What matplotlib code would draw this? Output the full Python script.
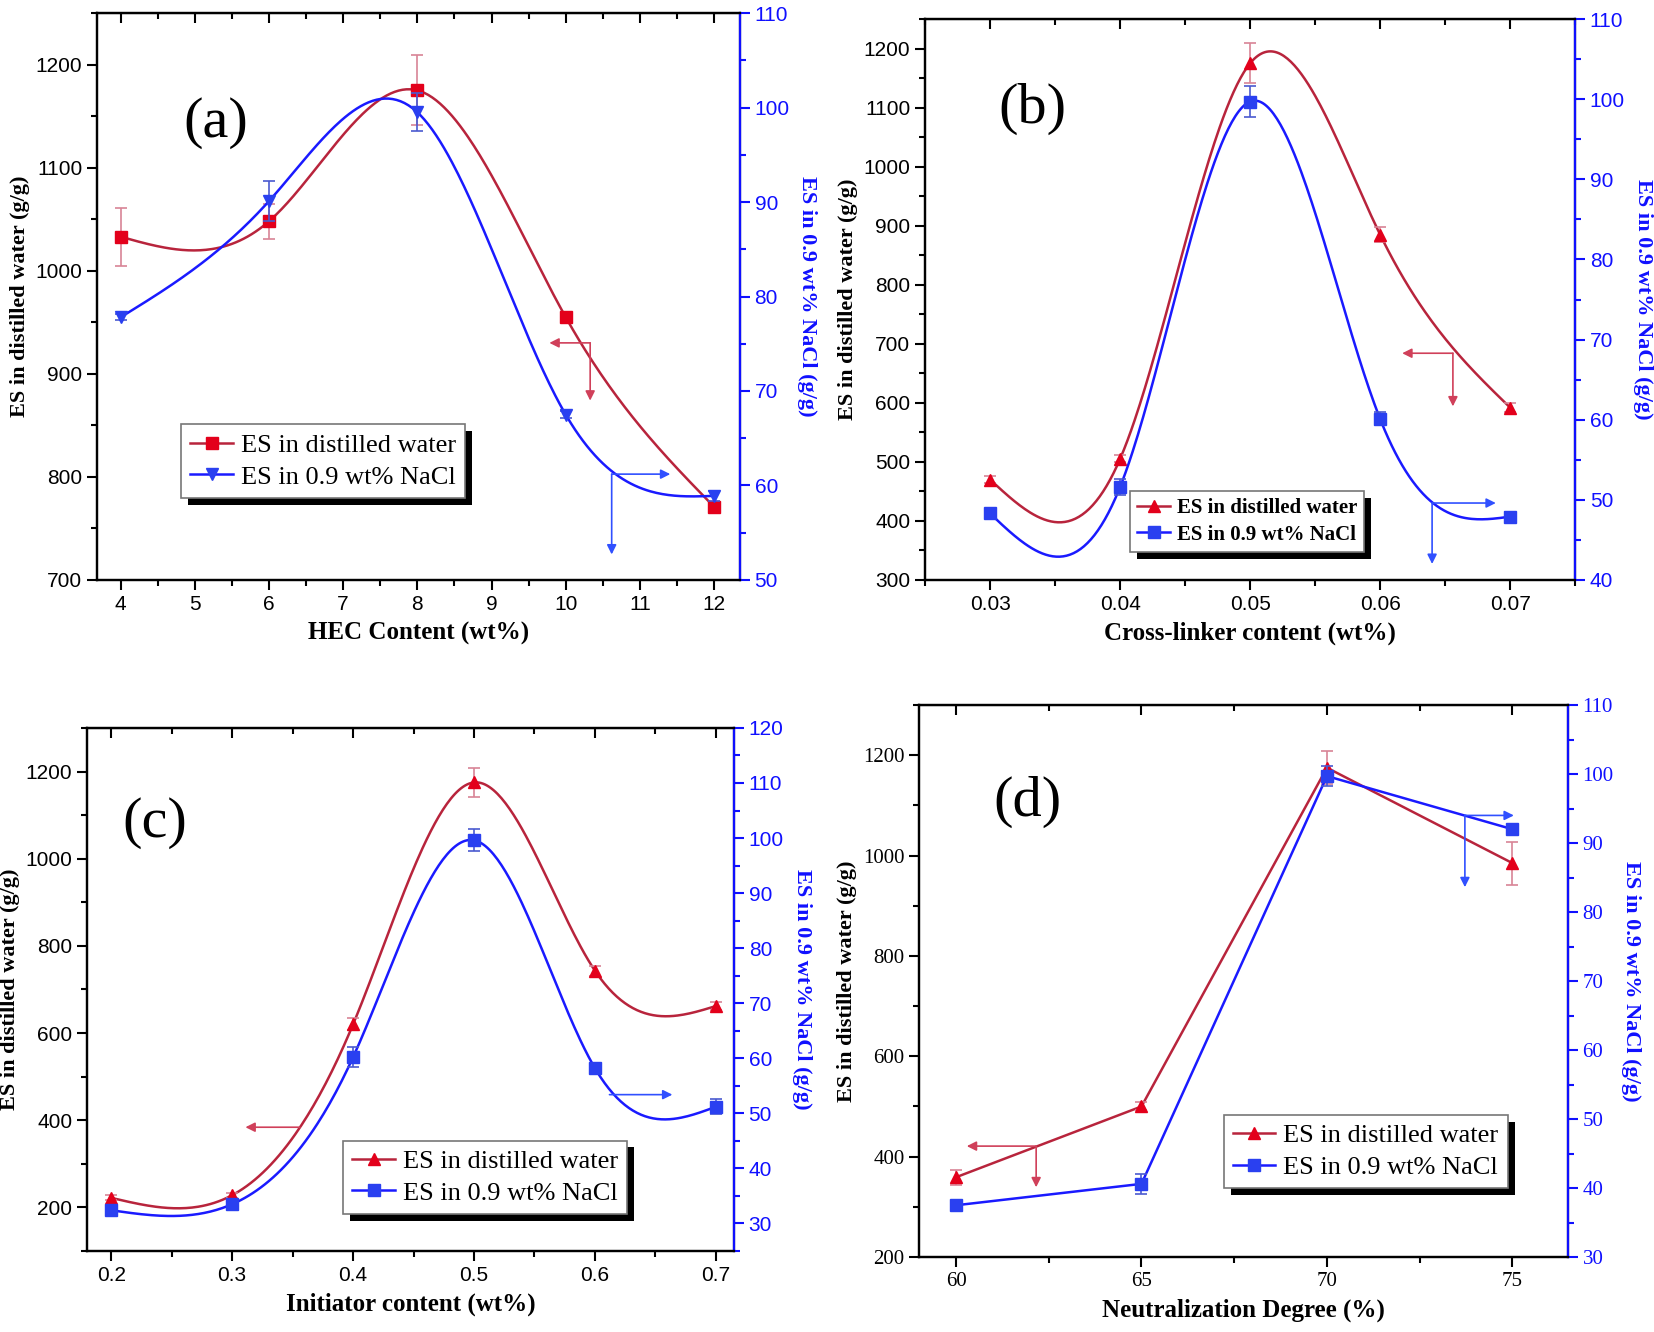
import numpy as np
import matplotlib
matplotlib.use('Agg')
import matplotlib.pyplot as plt
from matplotlib.ticker import MultipleLocator
import matplotlib.patheffects as pe

# (a) HEC content
hec = [4, 6, 8, 10, 12]
hec_water = [1033, 1048, 1175, 955, 771]
hec_water_err = [28, 17, 34, 5, 3]
hec_nacl = [77.8, 90.1, 99.5, 67.5, 58.9]
hec_nacl_err = [0.3, 2.1, 2.0, 0.4, 0.5]

# (b) cross-linker content
xlk = [0.03, 0.04, 0.05, 0.06, 0.07]
xlk_water = [470, 505, 1175, 885, 592]
xlk_water_err = [6, 6, 34, 12, 8]
xlk_nacl = [48.3, 51.6, 99.7, 60.1, 47.9]
xlk_nacl_err = [0.4, 1.0, 1.9, 0.8, 0.6]

# (c) initiator content
ini = [0.2, 0.3, 0.4, 0.5, 0.6, 0.7]
ini_water = [222, 228, 620, 1175, 743, 662]
ini_water_err = [6, 6, 14, 33, 12, 10]
ini_nacl = [32.4, 33.5, 60.2, 99.6, 58.2, 51.2]
ini_nacl_err = [0.5, 0.5, 1.8, 2.0, 0.4, 1.4]

# (d) neutralization degree
nd = [60, 65, 70, 75]
nd_water = [359, 500, 1175, 985]
nd_water_err = [15, 8, 33, 43]
nd_nacl = [37.5, 40.6, 99.7, 92.0]
nd_nacl_err = [0.4, 1.5, 1.5, 0.5]

RED_LINE = '#b8243c'
RED_MK = '#e3001b'
RED_ERR = '#d88496'
BLUE_LINE = '#1a1aff'
BLUE_MK = '#2a40f0'
BLUE_ERR = '#4a5ad0'
SERIF = 'Liberation Serif'


def natural_spline(x, y, n=300):
    # cubic spline through the measured points (how Origin draws the line)
    x = np.asarray(x, float)
    y = np.asarray(y, float)
    h = np.diff(x)
    m = len(x)
    A = np.zeros((m, m))
    r = np.zeros(m)
    A[0, 0] = A[-1, -1] = 1
    for i in range(1, m - 1):
        A[i, i - 1] = h[i - 1]
        A[i, i] = 2 * (h[i - 1] + h[i])
        A[i, i + 1] = h[i]
        r[i] = 6 * ((y[i + 1] - y[i]) / h[i] - (y[i] - y[i - 1]) / h[i - 1])
    M = np.linalg.solve(A, r)
    xs = np.linspace(x[0], x[-1], n)
    k = np.clip(np.searchsorted(x, xs) - 1, 0, m - 2)
    t0 = x[k + 1] - xs
    t1 = xs - x[k]
    hk = h[k]
    ys = (M[k] * t0**3 + M[k + 1] * t1**3) / (6 * hk) \
        + (y[k] / hk - M[k] * hk / 6) * t0 + (y[k + 1] / hk - M[k + 1] * hk / 6) * t1
    return xs, ys


def arrow(ax, start, end, color):
    ax.annotate('', xy=end, xytext=start,
                arrowprops=dict(arrowstyle='-|>', color=color, lw=1.2,
                                mutation_scale=14, shrinkA=0, shrinkB=0))


def panel(rect, x, w, we, s, se, mk_w, mk_s, smooth, xlim, ylim, ylim2,
          xstep, ystep, xlabel, letter, letter_pos, leg_pos, leg_bold,
          tick_family, red_arrow, blue_arrow):
    ax = fig.add_axes(rect)
    ax2 = ax.twinx()

    if smooth:
        xs, ys = natural_spline(x, w)
        xs2, ys2 = natural_spline(x, s)
    else:
        xs, ys = x, w
        xs2, ys2 = x, s
    ax.plot(xs, ys, color=RED_LINE, lw=1.8, zorder=2)
    ax.errorbar(x, w, yerr=we, fmt='none', ecolor=RED_ERR, elinewidth=1.2,
                capsize=4, capthick=1.2, zorder=3)
    ax.plot(x, w, ls='none', marker=mk_w, ms=8, color=RED_MK, zorder=4)
    ax2.plot(xs2, ys2, color=BLUE_LINE, lw=1.8, zorder=2)
    ax2.errorbar(x, s, yerr=se, fmt='none', ecolor=BLUE_ERR, elinewidth=1.2,
                 capsize=4, capthick=1.2, zorder=3)
    ax2.plot(x, s, ls='none', marker=mk_s, ms=8, color=BLUE_MK, zorder=4)

    ax.set_xlim(*xlim)
    ax.set_ylim(*ylim)
    ax2.set_ylim(*ylim2)

    ax.xaxis.set_major_locator(MultipleLocator(xstep))
    ax.xaxis.set_minor_locator(MultipleLocator(xstep / 2))
    ax.yaxis.set_major_locator(MultipleLocator(ystep))
    ax.yaxis.set_minor_locator(MultipleLocator(ystep / 2))
    ax2.yaxis.set_major_locator(MultipleLocator(10))
    ax2.yaxis.set_minor_locator(MultipleLocator(5))

    for a in (ax, ax2):
        for sp in a.spines.values():
            sp.set_linewidth(1.6)
    ax2.spines['right'].set_color('#1010ff')
    ax.tick_params(which='both', direction='out', width=1.5, labelsize=15,
                   right=False)
    ax.tick_params(which='major', length=7)
    ax.tick_params(which='minor', length=4)
    ax2.tick_params(axis='y', which='both', direction='out', width=1.5,
                    colors='#1010ff', labelsize=15)
    ax2.tick_params(axis='y', which='major', length=7)
    ax2.tick_params(axis='y', which='minor', length=4)

    top = ax.secondary_xaxis('top')
    top.xaxis.set_major_locator(MultipleLocator(xstep))
    top.xaxis.set_minor_locator(MultipleLocator(xstep / 2))
    top.tick_params(which='both', direction='in', width=1.5, labeltop=False)
    top.tick_params(which='major', length=7)
    top.tick_params(which='minor', length=4)

    for lab in ax.get_xticklabels() + ax.get_yticklabels() + ax2.get_yticklabels():
        lab.set_family(tick_family)

    ax.set_xlabel(xlabel, family=SERIF, fontweight='bold', fontsize=18, labelpad=6)
    ax.set_ylabel('ES in distilled water (g/g)', family=SERIF, fontweight='bold',
                  fontsize=16, labelpad=4)
    ax2.set_ylabel('ES in 0.9 wt% NaCl (g/g)', family=SERIF, fontweight='bold',
                   fontsize=16, color='#1010ff', rotation=270, labelpad=20)

    ax.text(letter_pos[0], letter_pos[1], letter, transform=ax.transAxes,
            family=SERIF, fontsize=42, ha='center', va='center')

    arrow(ax, red_arrow[0], red_arrow[1], '#d0405a')
    if len(red_arrow) > 2:
        arrow(ax, red_arrow[0], red_arrow[2], '#d0405a')
    arrow(ax2, blue_arrow[0], blue_arrow[1], '#3050ff')
    if len(blue_arrow) > 2:
        arrow(ax2, blue_arrow[0], blue_arrow[2], '#3050ff')

    h1 = plt.Line2D([], [], color=RED_LINE, lw=1.8, marker=mk_w, ms=8,
                    mfc=RED_MK, mec=RED_MK)
    h2 = plt.Line2D([], [], color=BLUE_LINE, lw=1.8, marker=mk_s, ms=8,
                    mfc=BLUE_MK, mec=BLUE_MK)
    if leg_bold:
        prop = dict(family=SERIF, weight='bold', size=15)
    else:
        prop = dict(family=SERIF, size=19)
    leg = ax2.legend([h1, h2], ['ES in distilled water', 'ES in 0.9 wt% NaCl'],
                     loc='lower left', bbox_to_anchor=leg_pos, prop=prop,
                     borderaxespad=0, handlelength=1.6, handletextpad=0.3,
                     labelspacing=0.3, borderpad=0.35, fancybox=False,
                     framealpha=1, edgecolor='#777777')
    leg.get_frame().set_linewidth(1.2)
    leg.get_frame().set_path_effects([
        pe.SimplePatchShadow(offset=(5, -5), shadow_rgbFace='black', alpha=1),
        pe.Normal()])
    return ax, ax2


fig = plt.figure(figsize=(16.54, 13.32), dpi=100)

panel([0.0586, 0.5646, 0.3888, 0.4256], hec, hec_water, hec_water_err,
      hec_nacl, hec_nacl_err, 's', 'v', True,
      (3.68, 12.35), (700, 1250), (50, 110), 1, 100,
      'HEC Content (wt%)', '(a)', (0.185, 0.806), (0.131, 0.145), False,
      'Liberation Sans',
      [(10.33, 930), (9.78, 930), (10.33, 874)],
      [(10.62, 61.2), (11.41, 61.2), (10.62, 52.7)])

panel([0.5593, 0.5646, 0.3930, 0.4211], xlk, xlk_water, xlk_water_err,
      xlk_nacl, xlk_nacl_err, '^', 's', True,
      (0.025, 0.075), (300, 1250), (40, 110), 0.01, 100,
      'Cross-linker content (wt%)', '(b)', (0.165, 0.84), (0.315, 0.05), True,
      'Liberation Sans',
      [(0.0656, 684), (0.0617, 684), (0.0656, 594)],
      [(0.064, 49.6), (0.0689, 49.6), (0.064, 42.0)])

panel([0.0526, 0.0608, 0.3912, 0.3927], ini, ini_water, ini_water_err,
      ini_nacl, ini_nacl_err, '^', 's', True,
      (0.18, 0.715), (100, 1300), (25, 120), 0.1, 200,
      'Initiator content (wt%)', '(c)', (0.105, 0.818), (0.396, 0.071), False,
      'Liberation Sans',
      [(0.356, 384), (0.311, 384)],
      [(0.612, 53.4), (0.664, 53.4)])

panel([0.5556, 0.0563, 0.3924, 0.4144], nd, nd_water, nd_water_err,
      nd_nacl, nd_nacl_err, '^', 's', False,
      (59.0, 76.5), (200, 1300), (30, 110), 5, 200,
      'Neutralization Degree (%)', '(d)', (0.168, 0.824), (0.47, 0.125), False,
      SERIF,
      [(62.16, 421), (60.29, 421), (62.16, 339)],
      [(73.72, 94), (75.04, 94), (73.72, 83.6)])

fig.savefig('out.png', dpi=100)
